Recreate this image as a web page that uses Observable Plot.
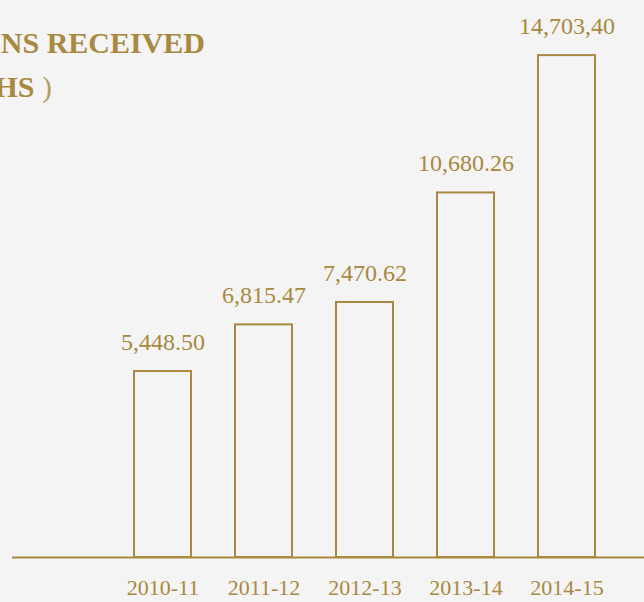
<!DOCTYPE html>
<html>
<head>
<meta charset="utf-8">
<script src="https://cdn.jsdelivr.net/npm/d3@7"></script>
<script src="https://cdn.jsdelivr.net/npm/@observablehq/plot@0.6"></script>
<style>
  html, body { margin: 0; padding: 0; background: #f4f4f4; }
  #wrap { position: relative; width: 644px; height: 602px; overflow: hidden; background: #f4f4f4; }
  .title { position: absolute; white-space: nowrap; color: #a8893f; font-family: "Liberation Serif", serif; font-size: 30px; line-height: 30px; text-align: right; }
  #chart { position: absolute; left: 0; top: 0; }
</style>
</head>
<body>
<div id="wrap">
  <div id="chart"></div>
  <div class="title" style="right: 439px; top: 28px; font-weight: bold;">DONATIONS RECEIVED</div>
  <div class="title" style="right: 592px; top: 72px;"><span style="font-weight: bold;">( IN LAKHS</span> <span style="font-weight: normal; opacity: 0.8;">)</span></div>
</div>
<script>
const years = ["2010-11", "2011-12", "2012-13", "2013-14", "2014-15"];
const values = [5448.50, 6815.47, 7470.62, 10680.26, 14703.40];
const valueLabels = ["5,448.50", "6,815.47", "7,470.62", "10,680.26", "14,703,40"];

const data = years.map((y, i) => ({year: y, value: values[i], label: valueLabels[i]}));
const gold = "#a8893f";
const font = "Liberation Serif, serif";

const chart = Plot.plot({
  width: 644,
  height: 602,
  marginLeft: 12,
  marginRight: 0,
  marginTop: 45,
  marginBottom: 45,
  style: {background: "transparent", fontFamily: font},
  x: {type: "band", domain: years, range: [133, 595], paddingInner: 0.437, paddingOuter: 0, label: null},
  y: {domain: [0, 15000], axis: null},
  marks: [
    Plot.barY(data, {x: "year", y: "value", fill: "none", stroke: gold, strokeWidth: 2}),
    Plot.ruleY([0], {stroke: gold, strokeWidth: 2}),
    Plot.text(data, {x: "year", y: "value", text: "label", dy: -22, lineAnchor: "bottom", fill: gold, fontSize: 24, fontFamily: font}),
    Plot.axisX({tickSize: 0, tickPadding: 22, fontSize: 22, fontFamily: font, color: gold, label: null})
  ]
});
document.getElementById("chart").appendChild(chart);
</script>
</body>
</html>
